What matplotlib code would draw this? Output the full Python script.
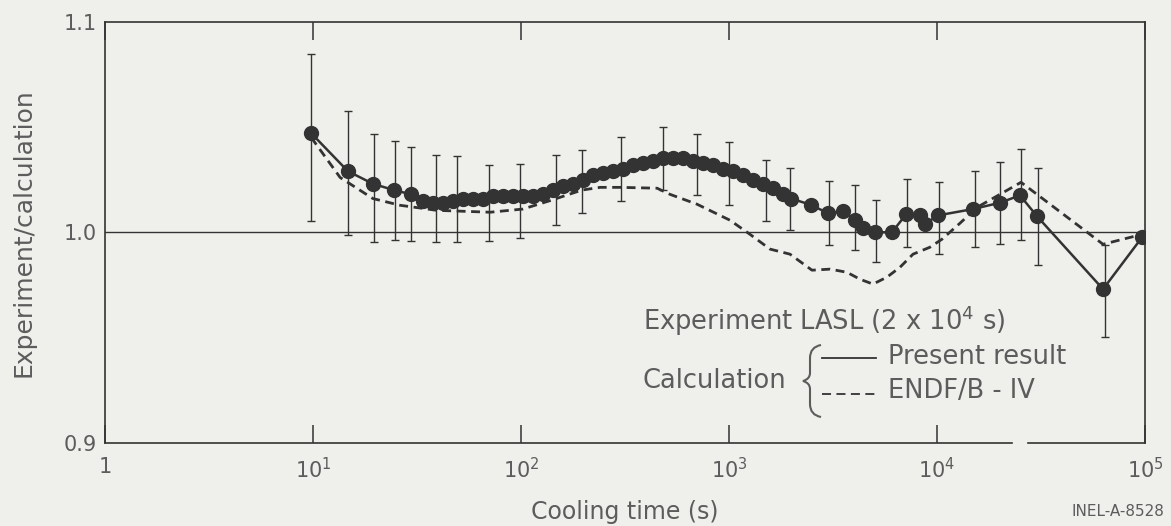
import numpy as np
import matplotlib.pyplot as plt
from matplotlib.path import Path
from matplotlib.patches import PathPatch

plt.rcParams['font.family'] = ['DejaVu Sans']
plt.rcParams['mathtext.fontset'] = 'dejavusans'

# experiment / calculation (present result)
t_exp = [9.8, 14.7, 19.4, 24.5, 29.6, 33.8, 37.7, 42.2, 47.1, 52.6, 58.8, 65.7, 73.3,
         81.9, 91.5, 102, 114, 128, 143, 159, 178, 199, 222, 248, 277, 309, 345, 386,
         431, 482, 538, 601, 671, 750, 838, 936, 1045, 1168, 1304, 1457, 1628, 1818,
         1986, 2478, 2992, 3531, 4035, 4409, 5035, 6077, 7098, 8285, 8753, 10110,
         14890, 20080, 25060, 30250, 62850, 96800]
r_exp = [1.047, 1.029, 1.023, 1.020, 1.018, 1.015, 1.014, 1.014, 1.015, 1.016, 1.016,
         1.016, 1.017, 1.017, 1.017, 1.017, 1.017, 1.018, 1.020, 1.022, 1.023, 1.025,
         1.027, 1.028, 1.029, 1.030, 1.032, 1.033, 1.034, 1.035, 1.035, 1.035, 1.034,
         1.033, 1.032, 1.030, 1.029, 1.027, 1.025, 1.023, 1.021, 1.018, 1.016, 1.013,
         1.009, 1.010, 1.006, 1.002, 1.000, 1.000, 1.0085, 1.008, 1.004, 1.008, 1.011,
         1.014, 1.0175, 1.0076, 0.973, 0.9976]

# error bars drawn on a subset of the points
t_bar = [9.8, 14.7, 19.65, 24.8, 29.6, 39.0, 49.2, 70.2, 98.9, 147, 196, 303, 482, 702,
         1000, 1507, 1964, 3025, 4035, 5092, 7175, 10230, 15230, 20080, 25350, 30600,
         64200]
r_bar = [1.045, 1.028, 1.021, 1.020, 1.018, 1.016, 1.016, 1.014, 1.015, 1.020, 1.024,
         1.030, 1.035, 1.032, 1.028, 1.020, 1.016, 1.009, 1.007, 1.0005, 1.009, 1.0066,
         1.011, 1.0137, 1.018, 1.0073, 0.972]
e_bar = [0.0398, 0.0294, 0.0256, 0.0235, 0.0223, 0.0206, 0.0204, 0.0180, 0.0175, 0.0166,
         0.0149, 0.0154, 0.0149, 0.0145, 0.0149, 0.0145, 0.0147, 0.0152, 0.0152, 0.0147,
         0.0161, 0.0171, 0.0180, 0.0194, 0.0216, 0.0230, 0.0218]

# experiment / calculation (ENDF/B-IV)
t_endf = [9.8, 13.5, 19.4, 26.2, 39.5, 71.0, 102, 138, 196, 240, 299, 451, 520, 702,
          1011, 1262, 1575, 1964, 2506, 3062, 3690, 4265, 4923, 5750, 6640, 7670, 9250,
          10570, 12900, 15570, 20080, 25350, 62850, 96800]
r_endf = [1.045, 1.026, 1.016, 1.0128, 1.0104, 1.0095, 1.011, 1.015, 1.020, 1.0213,
          1.0213, 1.0209, 1.018, 1.0133, 1.0057, 0.999, 0.992, 0.9896, 0.982, 0.9825,
          0.981, 0.9777, 0.9754, 0.9787, 0.9834, 0.9896, 0.9929, 0.9967, 1.0043, 1.0118,
          1.018, 1.0237, 0.9943, 0.999]

x_ticks = [1, 1e1, 1e2, 1e3, 1e4, 1e5]
x_labels = ['1', '10$^1$', '10$^2$', '10$^3$', '10$^4$', '10$^5$']
y_ticks = [0.9, 1.0, 1.1]
y_labels = ['0.9', '1.0', '1.1']

bg = '#efefec'
ink = '#333333'
txt = '#5c5c5c'

W, H = 1171, 526
fig = plt.figure(figsize=(W / 100, H / 100), dpi=100, facecolor=bg)
ax = fig.add_axes([105 / W, 1 - 443 / H, 1040 / W, 421.5 / H], facecolor=bg)

ax.set_xscale('log')
ax.set_xlim(1, 1e5)
ax.set_ylim(0.9, 1.1)

# reference line at unity
ax.axhline(1.0, color=ink, lw=1.0, zorder=1)

# ENDF/B-IV dashed
ln, = ax.plot(t_endf, r_endf, color=ink, lw=2.0, zorder=2)
ln.set_dashes((3.2, 2.0))

# present result: points joined by solid line
ax.plot(t_exp, r_exp, color=ink, lw=1.8, marker='o', ms=10, mfc=ink, mec=ink, zorder=3)
ax.errorbar(t_bar, r_bar, yerr=e_bar, fmt='none', ecolor=ink, elinewidth=1.0,
            capsize=3, capthick=1.0, zorder=3)

ax.set_xticks(x_ticks)
ax.set_xticklabels(x_labels)
ax.xaxis.set_minor_locator(plt.NullLocator())
ax.set_yticks(y_ticks)
ax.set_yticklabels(y_labels)
ax.tick_params(axis='x', which='major', direction='in', length=13, width=1.1,
               color=ink, top=True, labelsize=15, labelcolor=txt, pad=10)
ax.tick_params(axis='y', length=0, labelsize=15, labelcolor=txt, pad=6)

for s in ax.spines.values():
    s.set_color(ink)
    s.set_linewidth(1.2)
# bottom spine has a small break near 2.5e4
ax.spines['bottom'].set_visible(False)
xa = ax.get_xaxis_transform()
ax.plot([1, 2.3e4], [0, 0], color=ink, lw=1.2, transform=xa, clip_on=False)
ax.plot([2.75e4, 1e5], [0, 0], color=ink, lw=1.2, transform=xa, clip_on=False)

ax.set_xlabel('Cooling time (s)', fontsize=17, color=txt, labelpad=13)
ax.set_ylabel('Experiment/calculation', fontsize=18, color=txt, labelpad=20)

# annotation layer in pixel coordinates
an = fig.add_axes([0, 0, 1, 1], facecolor='none')
an.set_xlim(0, W)
an.set_ylim(H, 0)
an.axis('off')

fs = 18.5
an.text(643, 321, 'Experiment LASL (2 x 10$^4$ s)', fontsize=fs, color=txt, va='center')
an.text(643, 381, 'Calculation', fontsize=fs, color=txt, va='center')
an.text(888, 357, 'Present result', fontsize=fs, color=txt, va='center')
an.text(888, 391, 'ENDF/B - IV', fontsize=fs, color=txt, va='center')
an.plot([822, 876], [358, 358], color=ink, lw=1.3)
dl, = an.plot([822, 876], [394, 394], color=ink, lw=1.3)
dl.set_dashes((5, 3))

verts = [(821, 345), (810, 347), (810, 358), (810, 373), (810, 379), (803, 381),
         (810, 383), (810, 389), (810, 404), (810, 415), (821, 417)]
codes = [Path.MOVETO, Path.CURVE3, Path.CURVE3, Path.LINETO, Path.CURVE3, Path.CURVE3,
         Path.CURVE3, Path.CURVE3, Path.LINETO, Path.CURVE3, Path.CURVE3]
an.add_patch(PathPatch(Path(verts, codes), fc='none', ec=txt, lw=1.5))

an.text(1164, 512, 'INEL-A-8528', fontsize=11, color=txt, ha='right', va='center')

fig.savefig('out.png', dpi=100, facecolor=bg)
